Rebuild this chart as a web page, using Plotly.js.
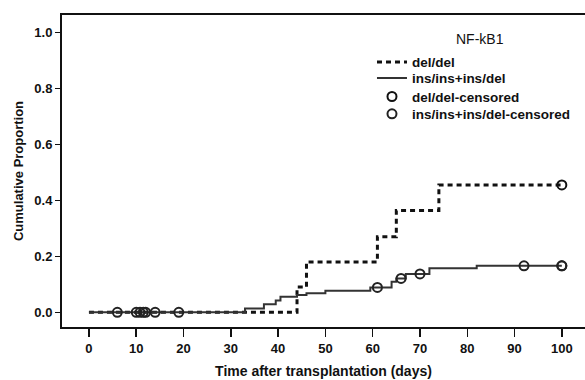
<!DOCTYPE html>
<html>
<head>
<meta charset="utf-8">
<script src="https://cdn.plot.ly/plotly-3.0.1.min.js"></script>
<style>html,body{margin:0;padding:0;background:#fff}#chart{width:585px;height:380px}</style>
</head>
<body>
<div id="chart"></div>
<script>
// Kaplan-Meier style cumulative proportion (step functions)
const delTimes = [0, 44, 46, 61, 65, 74, 100];
const delCum   = [0, 0.09, 0.18, 0.27, 0.364, 0.455, 0.455];

const insTimes = [0, 33, 37, 39.5, 40.5, 44, 46, 50, 59.5, 64, 65, 67, 72, 82, 100];
const insCum   = [0, 0.014, 0.029, 0.042, 0.056, 0.062, 0.068, 0.077, 0.089, 0.109, 0.121, 0.137, 0.157, 0.166, 0.166];

const delCensTimes = [100];
const delCensCum   = [0.455];

const insCensTimes = [6, 10, 10.8, 11.5, 12, 14, 19, 61, 66, 70, 92, 100, 100];
const insCensCum   = [0, 0, 0, 0, 0, 0, 0, 0.089, 0.121, 0.137, 0.166, 0.166, 0.166];

const xTicks = [0, 10, 20, 30, 40, 50, 60, 70, 80, 90, 100];
const yTicks = [0, 0.2, 0.4, 0.6, 0.8, 1.0];

const seriesNames = ['del/del', 'ins/ins+ins/del', 'del/del-censored', 'ins/ins+ins/del-censored'];

const font = 'Liberation Sans, Arial, sans-serif';

const traces = [
  {x: delTimes, y: delCum, name: seriesNames[0], mode: 'lines', type: 'scatter', legend: 'legend',
   line: {shape: 'hv', color: '#111', width: 3, dash: '5px,4px'}},
  {x: insTimes, y: insCum, name: seriesNames[1], mode: 'lines', type: 'scatter', legend: 'legend2',
   line: {shape: 'hv', color: '#333', width: 2}},
  {x: delCensTimes, y: delCensCum, name: seriesNames[2], mode: 'markers', type: 'scatter', legend: 'legend3',
   marker: {symbol: 'circle-open', size: 9, color: '#111', line: {width: 2, color: '#111'}}},
  {x: insCensTimes, y: insCensCum, name: seriesNames[3], mode: 'markers', type: 'scatter', legend: 'legend4',
   marker: {symbol: 'circle-open', size: 9, color: '#222', line: {width: 2, color: '#222'}}}
];

function leg(y) {
  return {x: 0.5927, xanchor: 'left', y: y, yanchor: 'middle',
          font: {family: font, size: 13.5, color: '#111', weight: 'bold'},
          bgcolor: 'rgba(0,0,0,0)', itemwidth: 30};
}

const layout = {
  width: 585, height: 380,
  margin: {l: 62, r: 0, t: 15, b: 53},
  paper_bgcolor: '#fff', plot_bgcolor: '#fff',
  font: {family: font, color: '#111'},
  showlegend: true,
  legend: leg(0.8484),
  legend2: leg(0.7971),
  legend3: leg(0.7381),
  legend4: leg(0.6827),
  xaxis: {range: [-5.7, 104.9], tickvals: xTicks, ticktext: xTicks.map(String),
          showgrid: false, zeroline: false, showline: true, linecolor: '#111', linewidth: 2,
          mirror: true, ticks: 'outside', ticklen: 8, tickwidth: 1.5, tickcolor: '#111',
          tickfont: {family: font, size: 13, color: '#111', weight: 'bold'},
          title: {text: 'Time after transplantation (days)', standoff: 12,
                  font: {family: font, size: 14, color: '#111', weight: 'bold'}}},
  yaxis: {range: [-0.0525, 1.062], tickvals: yTicks, ticktext: yTicks.map(v => v.toFixed(1)),
          showgrid: false, zeroline: false, showline: true, linecolor: '#111', linewidth: 2,
          ticks: 'outside', ticklen: 5, tickwidth: 1.5, tickcolor: '#111',
          tickfont: {family: font, size: 13, color: '#111', weight: 'bold'},
          title: {text: 'Cumulative Proportion', standoff: 8,
                  font: {family: font, size: 13, color: '#111', weight: 'bold'}}},
  annotations: [
    {text: 'NF-kB1', xref: 'paper', yref: 'paper', x: 0.799, y: 0.923, xanchor: 'center', yanchor: 'middle',
     showarrow: false, font: {family: font, size: 14, color: '#111'}}
  ]
};

Plotly.newPlot('chart', traces, layout, {displayModeBar: false, staticPlot: true});
</script>
</body>
</html>
